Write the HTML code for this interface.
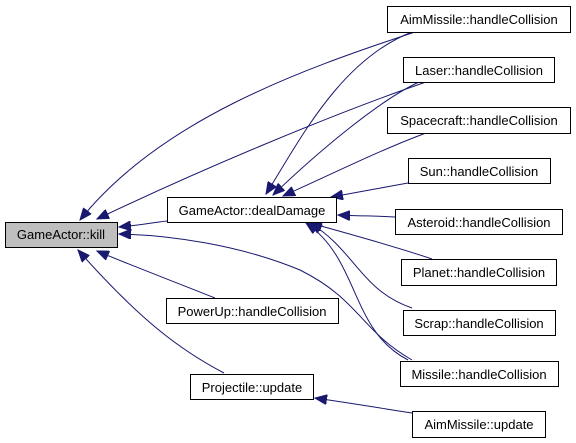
<!DOCTYPE html>
<html><head><meta charset="utf-8"><style>
html,body{margin:0;padding:0;background:#fff;width:576px;height:443px;overflow:hidden}
text{font-family:"Liberation Sans",Helvetica,sans-serif;font-size:13px;fill:#000}
</style></head><body>
<svg width="576" height="443" viewBox="0 0 576 443" xmlns="http://www.w3.org/2000/svg">
<defs>
<marker id="a" markerWidth="13" markerHeight="10" refX="12" refY="5" orient="auto" markerUnits="userSpaceOnUse">
<path d="M0,0 L12,5 L0,10 Z" fill="#191970" stroke="#191970"/>
</marker>
</defs>
<g fill="none" stroke="#191970" stroke-width="1" marker-end="url(#a)">
<path d="M415,32 C300,70 160,120 80,220"/>
<path d="M426,82 C330,115 200,170 97,219"/>
<path d="M412,32 C340,60 300,140 266,194"/>
<path d="M419,82 C380,100 320,150 273,195"/>
<path d="M426,133 C380,150 330,175 283,196"/>
<path d="M408,183 C380,188 360,192 331,197"/>
<path d="M395,217 C380,216 360,216 338,215"/>
<path d="M432,259 C400,248 350,234 310,223"/>
<path d="M412,308 C360,290 355,250 310,223"/>
<path d="M408,360 C350,330 360,260 306,223"/>
<path d="M167,221 C150,223 140,225 119,227"/>
<path d="M412,360 C360,330 360,300 300,270 C240,245 170,235 119,234"/>
<path d="M215,298 C170,280 130,265 97,251"/>
<path d="M224,373 C180,350 140,320 78,250"/>
<path d="M412,413 C380,408 350,403 315,398"/>
</g>
<g stroke="#000" stroke-width="1">
<rect x="5.5" y="222.5" width="112" height="25" fill="#bfbfbf"/>
<rect x="387.5" y="6.5" width="183" height="26" fill="#fff"/>
<rect x="403.5" y="57.5" width="151" height="25" fill="#fff"/>
<rect x="387.5" y="107.5" width="183" height="26" fill="#fff"/>
<rect x="408.5" y="158.5" width="142" height="25" fill="#fff"/>
<rect x="395.5" y="209.5" width="167" height="25" fill="#fff"/>
<rect x="401.5" y="259.5" width="155" height="26" fill="#fff"/>
<rect x="403.5" y="310.5" width="152" height="25" fill="#fff"/>
<rect x="400.5" y="361.5" width="158" height="25" fill="#fff"/>
<rect x="412.5" y="411.5" width="133" height="26" fill="#fff"/>
<rect x="167.5" y="197.5" width="169" height="25" fill="#fff"/>
<rect x="166.5" y="298.5" width="172" height="25" fill="#fff"/>
<rect x="190.5" y="374.5" width="123" height="25" fill="#fff"/>
</g>
<g text-anchor="middle">
<text x="61" y="239">GameActor::kill</text>
<text x="479" y="24">AimMissile::handleCollision</text>
<text x="479" y="75">Laser::handleCollision</text>
<text x="479" y="125">Spacecraft::handleCollision</text>
<text x="479" y="176">Sun::handleCollision</text>
<text x="479" y="227">Asteroid::handleCollision</text>
<text x="479" y="277">Planet::handleCollision</text>
<text x="479" y="328">Scrap::handleCollision</text>
<text x="479" y="379">Missile::handleCollision</text>
<text x="479" y="429">AimMissile::update</text>
<text x="252" y="215">GameActor::dealDamage</text>
<text x="252" y="316">PowerUp::handleCollision</text>
<text x="252" y="392">Projectile::update</text>
</g>
</svg>
</body></html>
